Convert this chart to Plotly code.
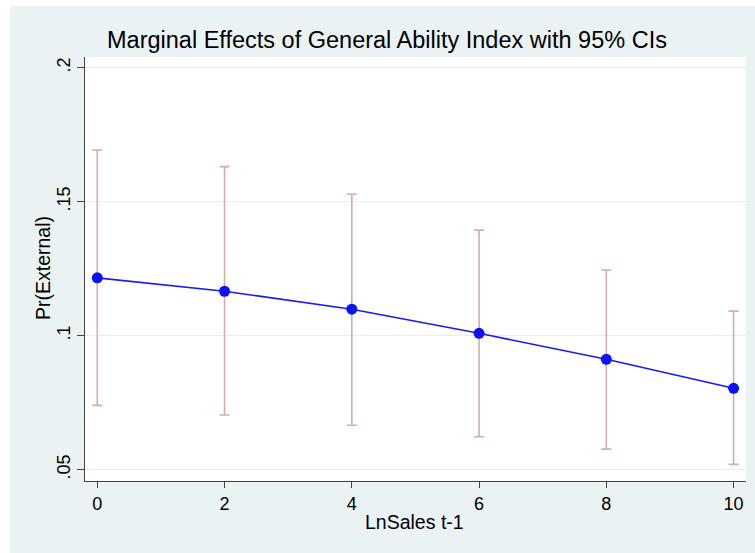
import plotly.graph_objects as go

# ---- data ----
ln_sales = [0, 2, 4, 6, 8, 10]
pr_external = [0.1216, 0.1166, 0.1099, 0.1009, 0.0912, 0.0804]
ci_upper = [0.1693, 0.1631, 0.1528, 0.1394, 0.1245, 0.1092]
ci_lower = [0.0740, 0.0704, 0.0666, 0.0623, 0.0577, 0.0520]
y_tick_vals = [0.05, 0.1, 0.15, 0.2]
y_tick_text = [".05", ".1", ".15", ".2"]
x_tick_vals = [0, 2, 4, 6, 8, 10]

W, H = 755, 553
FONT = "Liberation Sans, Arial, Helvetica, sans-serif"
BG = "#EAF2F3"

err_plus = [u - m for u, m in zip(ci_upper, pr_external)]
err_minus = [m - l for m, l in zip(pr_external, ci_lower)]

fig = go.Figure()
fig.add_trace(go.Scatter(
    x=ln_sales, y=pr_external, mode="markers",
    marker=dict(size=1, color="rgba(0,0,0,0)"),
    error_y=dict(type="data", symmetric=False, array=err_plus, arrayminus=err_minus,
                 color="#CFAFA7", thickness=1.6, width=5),
    showlegend=False, hoverinfo="skip",
))
fig.add_trace(go.Scatter(
    x=ln_sales, y=pr_external, mode="lines+markers",
    line=dict(color="#1A1AF5", width=1.6),
    marker=dict(size=11, color="#0A14F5"),
    showlegend=False,
))

px_l, px_r, px_t, px_b = 85, 746, 57, 481

fig.update_layout(
    width=W, height=H,
    margin=dict(l=0, r=0, t=0, b=0),
    paper_bgcolor=BG, plot_bgcolor="white",
    font=dict(family=FONT, color="#000000"),
    xaxis=dict(
        domain=[px_l / W, px_r / W], range=[-0.193, 10.195],
        tickvals=x_tick_vals, ticktext=[str(v) for v in x_tick_vals],
        showgrid=False, zeroline=False,
        showline=True, linecolor="#444444", linewidth=1,
        ticks="outside", ticklen=6, tickcolor="#444444", tickwidth=1,
        tickfont=dict(size=18, family=FONT, color="#000000"),
    ),
    yaxis=dict(
        domain=[(H - px_b) / H, (H - px_t) / H], range=[0.0458, 0.2040],
        tickvals=y_tick_vals, ticktext=y_tick_text, tickangle=-90,
        showgrid=True, gridcolor="#E6EEF0", gridwidth=1, zeroline=False,
        showline=True, linecolor="#444444", linewidth=1,
        ticks="outside", ticklen=7, tickcolor="#444444", tickwidth=1,
        tickfont=dict(size=18, family=FONT, color="#000000"),
    ),
    shapes=[
        dict(type="rect", xref="paper", yref="paper", x0=0, x1=10 / W, y0=0, y1=1,
             fillcolor="white", line=dict(width=0), layer="above"),
        dict(type="rect", xref="paper", yref="paper", x0=0, x1=1, y0=(H - 6) / H, y1=1,
             fillcolor="white", line=dict(width=0), layer="above"),
    ],
    annotations=[
        dict(text="Marginal Effects of General Ability Index with 95% CIs",
             x=387 / W, y=1 - 40 / H, xref="paper", yref="paper",
             xanchor="center", yanchor="middle", showarrow=False,
             font=dict(size=23.5, family=FONT, color="#000000")),
        dict(text="LnSales t-1", x=414 / W, y=1 - 522 / H, xref="paper", yref="paper",
             xanchor="center", yanchor="middle", showarrow=False,
             font=dict(size=19.5, family=FONT, color="#000000")),
        dict(text="Pr(External)", x=43 / W, y=1 - 268 / H, xref="paper", yref="paper",
             xanchor="center", yanchor="middle", showarrow=False, textangle=-90,
             font=dict(size=19.5, family=FONT, color="#000000")),
    ],
)

fig.write_html("out.html")
